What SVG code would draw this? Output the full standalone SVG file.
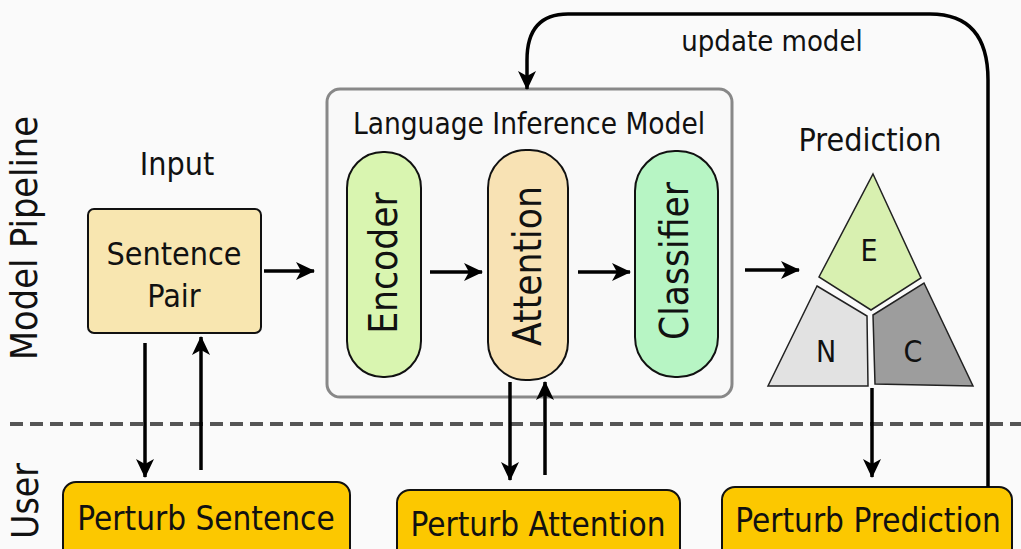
<svg xmlns="http://www.w3.org/2000/svg" width="1021" height="549" viewBox="0 0 1021 549">
<defs>
<style>
text{font-family:"DejaVu Sans Condensed","DejaVu Sans","Liberation Sans",sans-serif;font-stretch:condensed;fill:#111;}
.box{stroke:#111;stroke-width:2;}
.perturb{fill:#fcc800;stroke:#111;stroke-width:2;}
.conn{fill:none;stroke:#000;stroke-width:3.5;}
.lbl{font-size:32px;text-anchor:middle;}
.pt{font-size:33px;text-anchor:middle;}
.vt{font-size:38.5px;text-anchor:middle;}
</style>
<marker id="ah" markerUnits="userSpaceOnUse" markerWidth="22" markerHeight="20" refX="18" refY="9" orient="auto">
<path d="M0,0 L19,9 L0,18 L5,9 Z" fill="#000"/>
</marker>
</defs>
<rect width="1021" height="549" fill="#fafafa"/>

<g id="lane-labels">
<text transform="translate(37,238) rotate(-90)" style="font-size:37.5px;text-anchor:middle">Model Pipeline</text>
<text transform="translate(38,501) rotate(-90)" style="font-size:37px;text-anchor:middle">User</text>
<line x1="10" y1="424" x2="1021" y2="424" stroke="#555" stroke-width="4" stroke-dasharray="13,7"/>
</g>

<g id="input">
<text x="177" y="175" class="lbl">Input</text>
<rect x="88" y="209" width="173" height="124" rx="6" fill="#f8e6b0" class="box"/>
<text x="174" y="265" class="lbl">Sentence</text>
<text x="174" y="307" class="lbl">Pair</text>
</g>

<g id="lim">
<rect x="327" y="89" width="405" height="308" rx="13" fill="#f9f9f9" stroke="#888" stroke-width="3"/>
<text x="529" y="134" style="font-size:29.5px;text-anchor:middle">Language Inference Model</text>
</g>

<g id="encoder">
<rect x="347" y="152" width="74" height="225" rx="36" fill="#d9f5b0" class="box"/>
<text transform="translate(397,263) rotate(-90)" class="vt">Encoder</text>
</g>

<g id="attention">
<rect x="488" y="150" width="80" height="230" rx="38" fill="#f8e2b4" class="box"/>
<text transform="translate(541,266) rotate(-90)" class="vt">Attention</text>
</g>

<g id="classifier">
<rect x="635" y="151" width="83" height="226" rx="40" fill="#b7f5c4" class="box"/>
<text transform="translate(688,261) rotate(-90)" class="vt">Classifier</text>
</g>

<g id="prediction">
<text x="870" y="151" class="lbl">Prediction</text>
<polygon points="873,174 921,278 871,310 819,277" fill="#d8f0b0" stroke="#222" stroke-width="1.5"/>
<polygon points="817,286 867,316 868,386 768,386" fill="#e2e2e2" stroke="#222" stroke-width="1.5"/>
<polygon points="873,315 924,283 973,386 875,384" fill="#9d9d9d" stroke="#222" stroke-width="1.5"/>
<text x="869" y="261" style="font-size:30px;text-anchor:middle">E</text>
<text x="826" y="362" style="font-size:30px;text-anchor:middle">N</text>
<text x="913" y="362" style="font-size:30px;text-anchor:middle">C</text>
</g>

<g id="perturb-sentence">
<rect x="63" y="482" width="287" height="80" rx="13" class="perturb"/>
<text x="206" y="530" class="pt">Perturb Sentence</text>
</g>

<g id="perturb-attention">
<rect x="397" y="490" width="283" height="75" rx="13" class="perturb"/>
<text x="538" y="536" class="pt">Perturb Attention</text>
</g>

<g id="perturb-prediction">
<rect x="722" y="487" width="290" height="75" rx="13" class="perturb"/>
<text x="868" y="532" class="pt">Perturb Prediction</text>
</g>

<g id="connectors">
<line x1="264" y1="271" x2="314" y2="271" class="conn" marker-end="url(#ah)"/>
<line x1="430" y1="272" x2="482" y2="272" class="conn" marker-end="url(#ah)"/>
<line x1="578" y1="272" x2="630" y2="272" class="conn" marker-end="url(#ah)"/>
<line x1="745" y1="270" x2="799" y2="270" class="conn" marker-end="url(#ah)"/>
<line x1="145" y1="343" x2="145" y2="477" class="conn" marker-end="url(#ah)"/>
<line x1="201" y1="470" x2="201" y2="337" class="conn" marker-end="url(#ah)"/>
<line x1="510" y1="382" x2="510" y2="480" class="conn" marker-end="url(#ah)"/>
<line x1="545" y1="475" x2="545" y2="382" class="conn" marker-end="url(#ah)"/>
<line x1="872" y1="388" x2="872" y2="477" class="conn" marker-end="url(#ah)"/>
<path d="M988,487 L988,80 Q988,14 930,14 L568,14 Q527,14 527,60 L527,89" class="conn" marker-end="url(#ah)"/>
<text x="772" y="51" style="font-size:29px;text-anchor:middle">update model</text>
</g>
</svg>
